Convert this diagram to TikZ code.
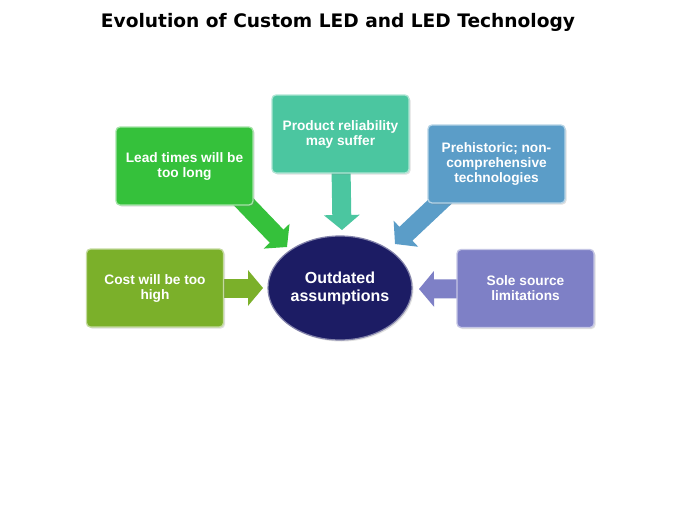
\documentclass[tikz,border=0pt]{standalone}
\usepackage{fontspec}
\setmainfont{Liberation Sans}
\newfontfamily\titlefont{DejaVu Sans}
\usetikzlibrary{arrows.meta,backgrounds,shadows,shapes.geometric}
\definecolor{costc}{HTML}{7BB02A}
\definecolor{leadc}{HTML}{35C13B}
\definecolor{prodc}{HTML}{4BC6A0}
\definecolor{prehc}{HTML}{5B9DC8}
\definecolor{solec}{HTML}{7E80C6}
\definecolor{ellc}{HTML}{1C1C64}
\begin{document}
\begin{tikzpicture}[x=1pt,y=-1pt,
  box/.style={fill=#1, draw=#1!45!white, line width=1.3pt, rounded corners=4pt,
    minimum width=137pt, minimum height=78pt, inner sep=0pt, text=white,
    font=\bfseries\fontsize{13.7}{15}\selectfont, align=center,
    drop shadow={opacity=0.25, shadow xshift=1.5pt, shadow yshift=-1.5pt}},
  arr/.style={draw=#1, line width=19pt, -{Triangle[width=35pt,length=15pt]}},
  hub/.style={ellipse, fill=ellc, draw=ellc!55!white, line width=1.2pt,
    minimum width=144pt, minimum height=104pt, inner sep=0pt, text=white,
    font=\bfseries\fontsize{16}{18}\selectfont, align=center,
    drop shadow={opacity=0.25, shadow xshift=1.5pt, shadow yshift=-1.5pt}},
  ttl/.style={font=\titlefont\bfseries\fontsize{18.6}{22}\selectfont}]
\useasboundingbox (0,0) rectangle (675,506);
\node[ttl] (title) at (338,22) {Evolution of Custom LED and LED Technology};
\node[box=costc] (cost) at (155,288) {Cost will be too\\high};
\node[box=leadc] (lead) at (184.5,166) {Lead times will be\\too long};
\node[box=prodc] (prod) at (340.5,134) {Product reliability\\may suffer};
\node[box=prehc] (preh) at (496.5,164) {Prehistoric; non-\\comprehensive\\technologies};
\node[box=solec] (sole) at (525.5,288.5) {Sole source\\limitations};
\node[hub] (hub) at (340,288) {Outdated\\assumptions};
\coordinate (tcost) at (263,288);
\coordinate (slead) at (238,196);
\coordinate (tlead) at (287,247);
\coordinate (tprod) at (342,230);
\coordinate (spreh) at (446,196);
\coordinate (tpreh) at (395,244);
\coordinate (tsole) at (419,289);
\begin{scope}[on background layer]
\fill[white] (0,0) rectangle (675,506);
\draw[arr=costc] (cost.center) -- (tcost);
\draw[arr=leadc] (slead) -- (tlead);
\draw[arr=prodc] (prod.center) -- (tprod);
\draw[arr=prehc] (spreh) -- (tpreh);
\draw[arr=solec] (sole.center) -- (tsole);
\end{scope}
\end{tikzpicture}
\end{document}
